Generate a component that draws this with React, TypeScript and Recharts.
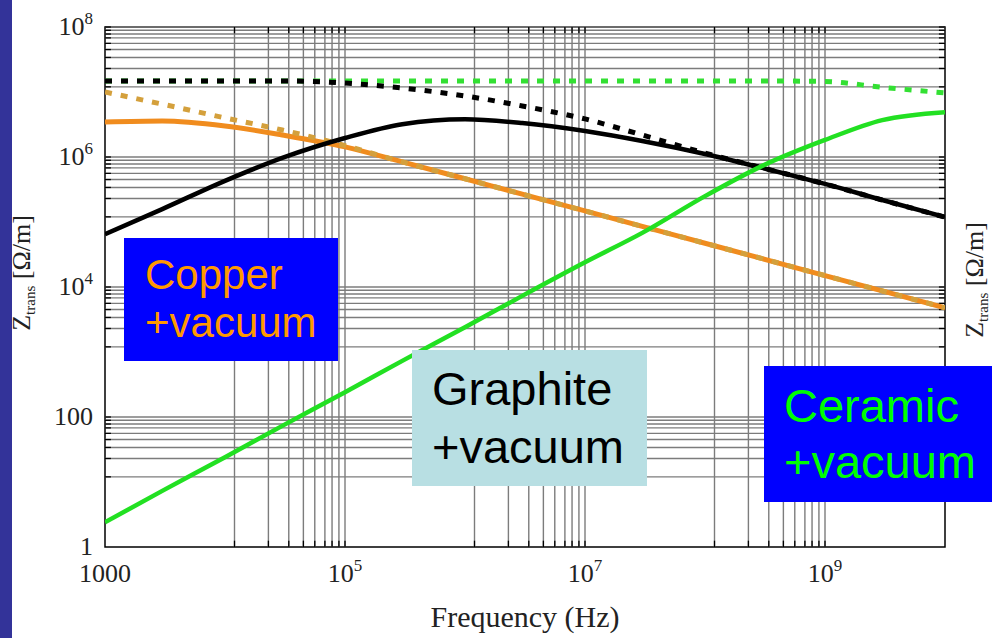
import { Line, LineChart, ReferenceArea, ReferenceLine, XAxis, YAxis } from 'recharts';

// frequency points (Hz), half-decade steps
const frequencies = [1e3, 3e3, 1e4, 3e4, 1e5, 3e5, 1e6, 3e6, 1e7, 3e7, 1e8, 3e8, 1e9, 3e9, 1e10];

// impedance values (Ohm/m)
const graphiteWall = [6.5e4, 1.58e5, 4.3e5, 9.7e5, 1.96e6, 3.2e6, 3.8e6, 3.33e6, 2.51e6, 1.76e6, 1.11e6, 6.8e5, 3.85e5, 2.18e5, 1.19e5];
const graphiteTotal = [1.48e7, 1.48e7, 1.48e7, 1.48e7, 1.37e7, 1.15e7, 8.7e6, 6.1e6, 3.85e6, 2.18e6, 1.15e6, 6.8e5, 3.85e5, 2.18e5, 1.19e5];
const copperWall = [3.45e6, 3.58e6, 3.0e6, 2.18e6, 1.43e6, 8.4e5, 4.63e5, 2.68e5, 1.48e5, 8.55e4, 4.71e4, 2.73e4, 1.5e4, 8.7e3, 4.8e3];
const copperTotal = [1.0e7, 6.5e6, 4.0e6, 2.6e6, 1.5e6, 8.4e5, 4.63e5, 2.68e5, 1.48e5, 8.55e4, 4.71e4, 2.73e4, 1.5e4, 8.7e3, 4.8e3];
const ceramicWall = [2.4, 7.3, 24, 73, 240, 730, 2400, 7300, 2.4e4, 6.8e4, 2.5e5, 7.3e5, 1.83e6, 3.7e6, 4.9e6];
const ceramicTotal = [1.48e7, 1.48e7, 1.48e7, 1.48e7, 1.48e7, 1.48e7, 1.48e7, 1.48e7, 1.48e7, 1.48e7, 1.48e7, 1.48e7, 1.45e7, 1.18e7, 9.7e6];

const xTicks = [1e3, 1e5, 1e7, 1e9];
const yTicks = [1, 100, 1e4, 1e6, 1e8];

// grid lines sit only in every other decade
const gridSteps = [1.2, 2.3, 3.4, 4.5, 5.6, 6.8, 7.8, 8.9, 10];
const xGridDecades = [1e4, 1e6, 1e8];
const yGridDecades = [10, 1e3, 1e5, 1e7];

const xGrid = xGridDecades.flatMap((d) => gridSteps.map((s) => s * d));
const yGrid = yGridDecades.flatMap((d) => gridSteps.map((s) => s * d));

const data = frequencies.map((f, i) => ({
  f,
  graphiteWall: graphiteWall[i],
  graphiteTotal: graphiteTotal[i],
  copperWall: copperWall[i],
  copperTotal: copperTotal[i],
  ceramicWall: ceramicWall[i],
  ceramicTotal: ceramicTotal[i]
}));

const serif = '"Liberation Serif", "DejaVu Serif", serif';
const sans = '"Liberation Sans", Arial, sans-serif';
const gridColor = '#7c7c7c';

function XTick(props: any) {
  const { x, payload } = props;
  const v = payload.value;
  const exp = Math.round(Math.log10(v));
  return (
    <text x={x} y={582} textAnchor='middle' fontFamily={serif} fontSize={26} fill='#222'>
      {v === 1000 ? '1000' : (
        <>
          10<tspan dy={-11} fontSize={17}>{exp}</tspan>
        </>
      )}
    </text>
  );
}

function YTick(props: any) {
  const { y, payload } = props;
  const v = payload.value;
  const exp = Math.round(Math.log10(v));
  return (
    <text x={93} y={y + 8} textAnchor='end' fontFamily={serif} fontSize={26} fill='#222'>
      {v === 1 ? '1' : v === 100 ? '100' : (
        <>
          10<tspan dy={-11} fontSize={17}>{exp}</tspan>
        </>
      )}
    </text>
  );
}

function Box({ left, top, width, height, bg, color, size, lineHeight, padTop, padLeft, lines }: any) {
  return (
    <div
      style={{
        position: 'absolute',
        left,
        top,
        width,
        height,
        background: bg,
        color,
        fontFamily: sans,
        fontSize: size,
        lineHeight: lineHeight + 'px',
        paddingTop: padTop,
        paddingLeft: padLeft,
        boxSizing: 'border-box',
        whiteSpace: 'nowrap'
      }}
    >
      {lines.map((t: string) => (
        <div key={t}>{t}</div>
      ))}
    </div>
  );
}

function App() {
  return (
    <div style={{ position: 'absolute', left: 0, top: 0, width: 992, height: 638, background: '#fff', overflow: 'hidden' }}>
      <LineChart
        width={992}
        height={638}
        data={data}
        margin={{ top: 27, right: 47, bottom: 51, left: 45 }}
      >
        <XAxis
          dataKey='f'
          type='number'
          scale='log'
          domain={[1e3, 1e10]}
          ticks={xTicks}
          allowDataOverflow
          height={40}
          axisLine={false}
          tickLine={false}
          tick={<XTick />}
        />
        <YAxis
          type='number'
          scale='log'
          domain={[1, 1e8]}
          ticks={yTicks}
          allowDataOverflow
          width={60}
          axisLine={false}
          tickLine={false}
          tick={<YTick />}
        />

        {xGrid.map((v) => (
          <ReferenceLine key={'x' + v} x={v} stroke={gridColor} strokeWidth={1.4} />
        ))}
        {yGrid.map((v) => (
          <ReferenceLine key={'y' + v} y={v} stroke={gridColor} strokeWidth={1.4} />
        ))}

        {/* short black ticks on the inside of the frame */}
        {yGrid.map((v) => (
          <ReferenceLine key={'tl' + v} segment={[{ x: 1e3, y: v }, { x: 1.12e3, y: v }]} stroke='#000' strokeWidth={1.3} />
        ))}
        {yGrid.map((v) => (
          <ReferenceLine key={'tr' + v} segment={[{ x: 8.9e9, y: v }, { x: 1e10, y: v }]} stroke='#000' strokeWidth={1.3} />
        ))}
        {xGrid.map((v) => (
          <ReferenceLine key={'tb' + v} segment={[{ x: v, y: 1 }, { x: v, y: 1.25 }]} stroke='#000' strokeWidth={1.3} />
        ))}
        {xGrid.map((v) => (
          <ReferenceLine key={'tt' + v} segment={[{ x: v, y: 0.8e8 }, { x: v, y: 1e8 }]} stroke='#000' strokeWidth={1.3} />
        ))}

        <Line type='monotone' dataKey='copperWall' stroke='#f08c1e' strokeWidth={5} dot={false} isAnimationActive={false} />
        <Line type='monotone' dataKey='copperTotal' stroke='#d4a03c' strokeWidth={5} strokeDasharray='7 9' dot={false} isAnimationActive={false} />
        <Line type='monotone' dataKey='ceramicTotal' stroke='#33e033' strokeWidth={5} strokeDasharray='7 9' dot={false} isAnimationActive={false} />
        <Line type='monotone' dataKey='graphiteTotal' stroke='#000' strokeWidth={5} strokeDasharray='7 9' dot={false} isAnimationActive={false} />
        <Line type='monotone' dataKey='graphiteWall' stroke='#000' strokeWidth={4.5} dot={false} isAnimationActive={false} />
        <Line type='monotone' dataKey='ceramicWall' stroke='#22e022' strokeWidth={4.5} dot={false} isAnimationActive={false} />

        <ReferenceArea x1={1e3} x2={1e10} y1={1} y2={1e8} fill='none' stroke='#000' strokeWidth={1.5} />
      </LineChart>

      <svg width={992} height={638} style={{ position: 'absolute', left: 0, top: 0, pointerEvents: 'none' }}>
        <text x={525} y={627} textAnchor='middle' fontFamily={serif} fontSize={30} fill='#222'>
          Frequency (Hz)
        </text>
        <text transform='translate(30 273) rotate(-90)' textAnchor='middle' fontFamily={serif} fontSize={26} fill='#222'>
          Z<tspan fontSize={15} dy={5}>trans</tspan>
          <tspan dy={-5}> [Ω/m]</tspan>
        </text>
        <text transform='translate(983 280) rotate(-90)' textAnchor='middle' fontFamily={serif} fontSize={26} fill='#222'>
          Z<tspan fontSize={15} dy={5}>trans</tspan>
          <tspan dy={-5}> [Ω/m]</tspan>
        </text>
      </svg>

      <div style={{ position: 'absolute', left: 0, top: 0, width: 12, height: 638, background: '#333399' }} />

      <Box left={124} top={238} width={214} height={123} bg='#0000ff' color='#ff9900' size={42} lineHeight={48} padTop={13} padLeft={21} lines={['Copper', '+vacuum']} />
      <Box left={412} top={350} width={235} height={136} bg='#b8dfe3' color='#000' size={47} lineHeight={58} padTop={10} padLeft={20} lines={['Graphite', '+vacuum']} />
      <Box left={764} top={366} width={228} height={136} bg='#0000ff' color='#00ff00' size={47} lineHeight={56} padTop={12} padLeft={20} lines={['Ceramic', '+vacuum']} />
    </div>
  );
}

export default App;
